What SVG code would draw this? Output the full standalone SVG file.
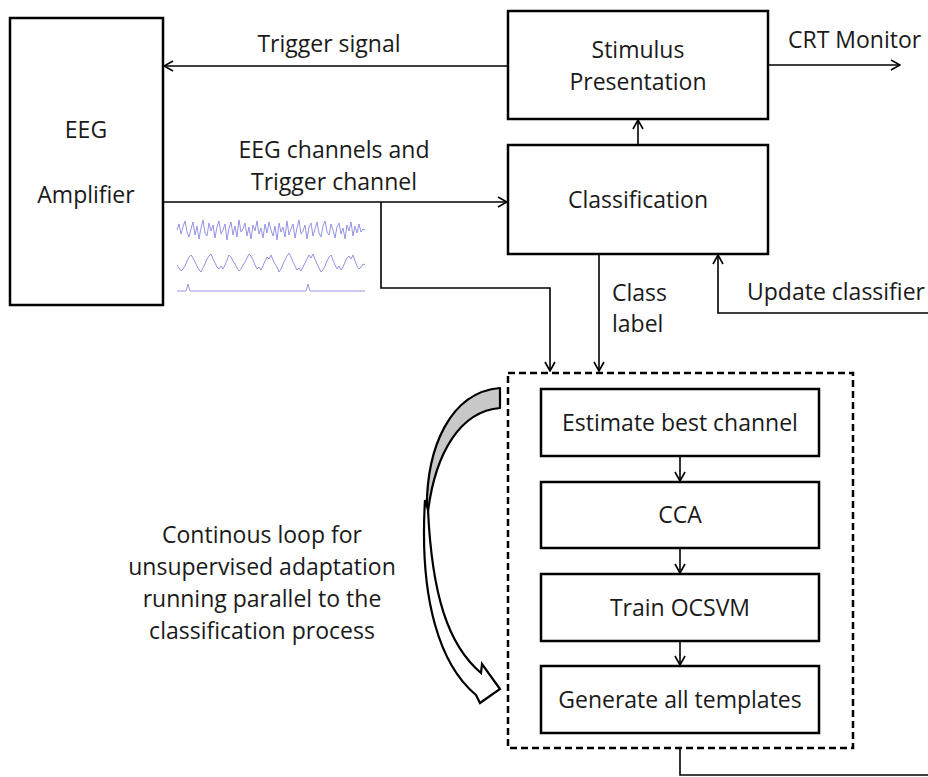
<svg xmlns="http://www.w3.org/2000/svg" width="928" height="777" viewBox="0 0 928 777">
<style>
text{font-family:"Open Sans","Liberation Sans",sans-serif;font-size:23px;fill:#1a1a1a}
.c{text-anchor:middle}
.box{fill:#fff;stroke:#000;stroke-width:2.5}
.ln{fill:none;stroke:#000;stroke-width:1.6}
.sig{fill:none;stroke:#9494e6;stroke-width:1}
</style>
<defs>
<marker id="ah" viewBox="0 0 12 12" refX="11" refY="6" markerWidth="12" markerHeight="12" markerUnits="userSpaceOnUse" orient="auto">
<path d="M2,1 L11,6 L2,11" fill="none" stroke="#000" stroke-width="1.6"/>
</marker>
</defs>
<rect width="928" height="777" fill="#fff"/>
<g id="eeg-amplifier">
<rect class="box" x="10" y="18" width="153" height="287"/>
<text class="c" x="86" y="138">EEG</text>
<text class="c" x="86" y="203">Amplifier</text>
</g>
<g id="stimulus-presentation">
<rect class="box" x="508" y="11" width="260" height="108"/>
<text class="c" x="638" y="58">Stimulus</text>
<text class="c" x="638" y="90">Presentation</text>
</g>
<g id="classification">
<rect class="box" x="508" y="145" width="260" height="109"/>
<text class="c" x="638" y="208">Classification</text>
</g>
<g id="adaptation-loop">
<rect x="508" y="373" width="345" height="375" fill="none" stroke="#000" stroke-width="2.5" stroke-dasharray="7,4"/>
</g>
<g id="estimate-best-channel">
<rect class="box" x="541" y="389" width="278" height="67"/>
<text class="c" x="680" y="431">Estimate best channel</text>
</g>
<g id="cca">
<rect class="box" x="541" y="482" width="278" height="66"/>
<text class="c" x="680" y="523">CCA</text>
</g>
<g id="train-ocsvm">
<rect class="box" x="541" y="574" width="278" height="67"/>
<text class="c" x="680" y="616">Train OCSVM</text>
</g>
<g id="generate-templates">
<rect class="box" x="541" y="666" width="278" height="67"/>
<text class="c" x="680" y="708">Generate all templates</text>
</g>
<g id="signals">
<polyline class="sig" points="177,230 179,224 181,234 183,227 185,221 187,232 189,237 191,229 193,222 195,235 197,226 199,239 201,228 203,220 205,233 207,236 209,223 211,231 213,225 215,238 217,227 219,221 221,234 223,230 225,224 227,240 229,228 231,222 233,235 235,226 237,237 239,220 241,232 243,229 245,223 247,236 249,227 251,239 253,225 255,231 257,221 259,234 261,228 263,238 265,224 267,233 269,222 271,230 273,236 275,226 277,240 279,223 281,232 283,227 285,237 287,221 289,235 291,229 293,224 295,238 297,228 299,220 301,234 303,231 305,225 307,239 309,227 311,223 313,236 315,229 317,222 319,233 321,237 323,226 325,221 327,232 329,235 331,224 333,230 335,238 337,227 339,223 341,234 343,228 345,239 347,225 349,231 351,222 353,236 355,226 357,233 359,224 361,232 363,229 365,230"/>
<polyline class="sig" points="177,265 179,268 181,271 183,269 185,266 187,261 189,257 191,255 193,258 195,262 197,266 199,270 201,272 203,268 205,264 207,259 209,256 211,254 213,259 215,263 217,267 219,269 221,266 223,269 225,265 227,260 229,255 231,257 233,261 235,264 237,268 239,271 241,269 243,265 245,262 247,258 249,254 251,256 253,260 255,265 257,269 259,267 261,270 263,266 265,261 267,257 269,259 271,255 273,260 275,264 277,267 279,272 281,269 283,264 285,260 287,256 289,253 291,257 293,262 295,266 297,270 299,268 301,271 303,267 305,263 307,259 309,255 311,258 313,254 315,259 317,264 319,268 321,272 323,270 325,266 327,261 329,257 331,255 333,260 335,265 337,269 339,266 341,270 343,267 345,262 347,258 349,256 351,259 353,255 355,261 357,266 359,269 361,267 363,264 365,265"/>
<polyline class="sig" points="177,291 186,291 188,284 190,291 306,291 308,284 310,291 365,291"/>
</g>
<g id="connectors">
<line class="ln" x1="508" y1="66" x2="164" y2="66" marker-end="url(#ah)"/>
<line class="ln" x1="768" y1="65" x2="900" y2="65" marker-end="url(#ah)"/>
<line class="ln" x1="638" y1="145" x2="638" y2="120" marker-end="url(#ah)"/>
<line class="ln" x1="163" y1="202" x2="507" y2="202" marker-end="url(#ah)"/>
<polyline class="ln" points="381,202 381,288 550,288 550,371" marker-end="url(#ah)"/>
<line class="ln" x1="599" y1="254" x2="599" y2="371" marker-end="url(#ah)"/>
<polyline class="ln" points="928,313 718,313 718,255" marker-end="url(#ah)"/>
<line class="ln" x1="680" y1="456" x2="680" y2="481" marker-end="url(#ah)"/>
<line class="ln" x1="680" y1="548" x2="680" y2="573" marker-end="url(#ah)"/>
<line class="ln" x1="680" y1="641" x2="680" y2="665" marker-end="url(#ah)"/>
<polyline class="ln" points="680,748 680,775 928,775"/>
</g>
<g id="curved-arrow">
<path d="M500,388 L500,408 C462,411 434,450 427,520 C424,445 452,392 500,388 Z" fill="#c8c8c8" stroke="#000" stroke-width="2.2" stroke-linejoin="round"/>
<path d="M425,500 C419,600 440,665 476,695 L480,703 L500,689 L482,664 L481,673 C448,645 432,595 428,510 Z" fill="#fff" stroke="#000" stroke-width="2.2" stroke-linejoin="miter"/>
</g>
<g id="labels">
<text class="c" x="329" y="52">Trigger signal</text>
<text x="788" y="48">CRT Monitor</text>
<text class="c" x="334" y="158">EEG channels and</text>
<text class="c" x="334" y="190">Trigger channel</text>
<text x="612" y="301">Class</text>
<text x="612" y="332">label</text>
<text x="747" y="300">Update classifier</text>
<text class="c" x="262" y="543">Continous loop for</text>
<text class="c" x="262" y="575">unsupervised adaptation</text>
<text class="c" x="262" y="607">running parallel to the</text>
<text class="c" x="262" y="639">classification process</text>
</g>
</svg>
